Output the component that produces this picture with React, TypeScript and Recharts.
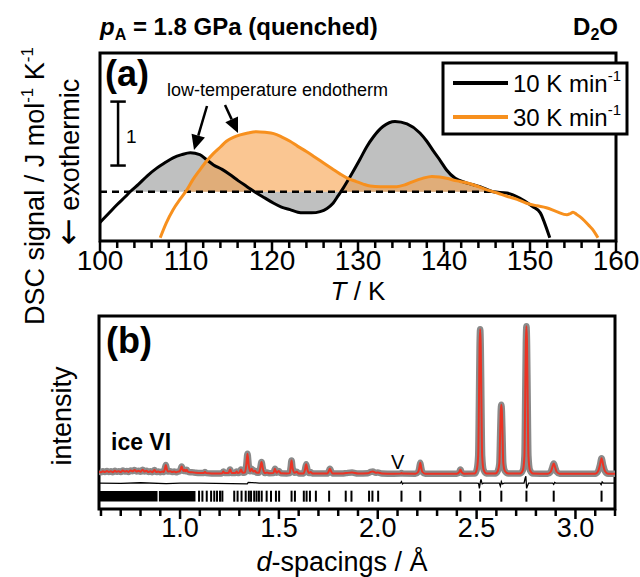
import React from "react"
import { Area, ComposedChart, Line, ReferenceArea, ReferenceLine, Scatter, XAxis, YAxis } from "recharts"

const FONT = "'Liberation Sans', Arial, Helvetica, sans-serif"

// panel (a): DSC scans
const tDomain = [100, 160]
const signalDomain = [-0.77, 2.17]
const tTicks = [100, 102, 104, 106, 108, 110, 112, 114, 116, 118, 120, 122, 124, 126, 128, 130, 132, 134, 136, 138, 140, 142, 144, 146, 148, 150, 152, 154, 156, 158, 160]
const tLabels = [100, 110, 120, 130, 140, 150, 160]

const blackT = [100, 101, 102, 103, 103.5, 104.5, 105.5, 106.6, 107.5, 108.5, 109.5, 110.5, 111.6, 112.4, 113.2, 114.2, 115.1, 116.1, 117.1, 118.2, 119.2, 120.2, 121.1, 122.1, 123.0, 123.6, 124.6, 125.6, 126.4, 127.1, 127.7, 128.3, 129.1, 130.2, 131.0, 131.8, 132.9, 134.3, 135.7, 137.2, 138.0, 138.8, 139.6, 140.3, 141.3, 142.6, 143.4, 144.2, 145.7, 147.3, 148.8, 150.3, 151.2, 151.7, 152.3]
const blackSignal = [-0.48, -0.34, -0.2, -0.07, 0, 0.12, 0.25, 0.37, 0.45, 0.53, 0.58, 0.61, 0.58, 0.5, 0.42, 0.35, 0.27, 0.17, 0.08, -0.02, -0.1, -0.18, -0.24, -0.28, -0.32, -0.33, -0.33, -0.31, -0.26, -0.18, -0.06, 0.06, 0.24, 0.5, 0.7, 0.86, 1.02, 1.1, 1.06, 0.92, 0.79, 0.63, 0.48, 0.34, 0.21, 0.14, 0.11, 0.08, 0.0, -0.02, -0.1, -0.23, -0.33, -0.49, -0.72]

const orangeT = [107.0, 107.7, 108.5, 109.3, 110.1, 110.8, 111.6, 112.4, 113.2, 114.0, 114.7, 115.5, 116.3, 117.2, 118.2, 119.2, 120.2, 121.1, 122.1, 123.0, 124.0, 125.0, 126.0, 127.0, 127.9, 128.8, 129.8, 130.6, 131.4, 132.6, 133.5, 134.5, 135.5, 136.4, 137.5, 138.6, 139.5, 140.3, 141.5, 142.6, 143.8, 145.0, 146.2, 147.3, 148.5, 149.6, 150.8, 151.9, 153.1, 154.3, 154.7, 155.0, 155.4, 155.8, 156.3, 156.8, 157.4, 157.9]
const orangeSignal = [-0.72, -0.49, -0.28, -0.12, 0.03, 0.19, 0.34, 0.48, 0.6, 0.7, 0.79, 0.85, 0.89, 0.92, 0.94, 0.93, 0.91, 0.86, 0.79, 0.71, 0.63, 0.54, 0.45, 0.36, 0.28, 0.21, 0.16, 0.12, 0.09, 0.08, 0.08, 0.08, 0.11, 0.16, 0.21, 0.24, 0.23, 0.21, 0.17, 0.14, 0.09, 0.03, -0.02, -0.07, -0.12, -0.18, -0.22, -0.25, -0.31, -0.36, -0.34, -0.32, -0.35, -0.39, -0.45, -0.52, -0.61, -0.72]

const blackFillRange = [103.5, 145.7]
const orangeFillRange = [110.1, 145.0]
const baselineEnd = 145.7
const scaleBar = { t: 102.1, from: 0.41, to: 1.41, cap: 0.9 }

const series = [
  { name: "10 K min", color: "#000000" },
  { name: "30 K min", color: "#f7901e" },
]

const blackRows = blackT.map((t, i) => ({ t, y: blackSignal[i] }))
const orangeRows = orangeT.map((t, i) => ({ t, y: orangeSignal[i] }))
const blackFill = blackRows.filter((r) => r.t >= blackFillRange[0] && r.t <= blackFillRange[1])
const orangeFill = orangeRows.filter((r) => r.t >= orangeFillRange[0] && r.t <= orangeFillRange[1])

// panel (b): neutron diffraction, ice VI
const dDomain = [0.59, 3.2]
const intensityDomain = [-23.2, 104.8]
const dTicks = [0.6, 0.7, 0.8, 0.9, 1.0, 1.1, 1.2, 1.3, 1.4, 1.5, 1.6, 1.7, 1.8, 1.9, 2.0, 2.1, 2.2, 2.3, 2.4, 2.5, 2.6, 2.7, 2.8, 2.9, 3.0, 3.1, 3.2]
const dLabels = [1.0, 1.5, 2.0, 2.5, 3.0]

const profile: [number, number][] = [
  [0.59, 1.6], [0.6, 1.2], [0.61, 1.9], [0.62, 1.3], [0.63, 2.0], [0.64, 1.4], [0.65, 1.8], [0.66, 1.2], [0.67, 2.1], [0.68, 1.5],
  [0.69, 1.9], [0.7, 1.3], [0.71, 2.3], [0.72, 1.6], [0.73, 2.0], [0.74, 1.4], [0.75, 2.4], [0.76, 1.8], [0.77, 2.6], [0.78, 1.7],
  [0.79, 2.2], [0.8, 1.5], [0.81, 2.9], [0.82, 1.6], [0.83, 2.1], [0.84, 1.3], [0.85, 1.8], [0.86, 1.2], [0.87, 2.6], [0.88, 1.3],
  [0.89, 1.7], [0.9, 1.2], [0.91, 1.6], [0.918, 1.4], [0.923, 3.5], [0.928, 6.0], [0.933, 3.2], [0.94, 1.6], [0.95, 1.9], [0.96, 1.3],
  [0.97, 1.7], [0.98, 1.2], [0.99, 1.6], [0.998, 1.8], [1.003, 3.2], [1.008, 5.0], [1.013, 3.0], [1.018, 2.0], [1.023, 2.8], [1.028, 1.9],
  [1.034, 2.8], [1.04, 1.5], [1.05, 1.1], [1.06, 1.2], [1.07, 1.0], [1.08, 0.8], [1.1, 0.6], [1.12, 0.7], [1.126, 1.4], [1.132, 0.6],
  [1.16, 0.4], [1.2, 0.4], [1.213, 0.5], [1.219, 1.6], [1.225, 0.6], [1.245, 0.6], [1.253, 3.0], [1.261, 0.7], [1.28, 0.6], [1.286, 1.6],
  [1.292, 0.7], [1.3, 0.9], [1.308, 3.0], [1.316, 0.9], [1.328, 1.0], [1.335, 6.0], [1.341, 13.5], [1.347, 6.0], [1.354, 1.8], [1.362, 3.5],
  [1.37, 1.6], [1.378, 2.2], [1.386, 1.0], [1.398, 0.8], [1.405, 3.5], [1.412, 8.0], [1.419, 3.5], [1.428, 0.6], [1.44, 1.0], [1.45, 0.5],
  [1.472, 0.6], [1.48, 3.5], [1.488, 0.8], [1.5, 2.0], [1.51, 0.5], [1.54, 0.4], [1.555, 0.6], [1.559, 4.0], [1.564, 9.0], [1.569, 4.0],
  [1.58, 0.8], [1.59, 1.5], [1.6, 0.4], [1.625, 0.4], [1.632, 3.0], [1.638, 6.5], [1.644, 3.0], [1.652, 0.6], [1.66, 1.3], [1.67, 0.4],
  [1.7, 0.3], [1.745, 0.3], [1.752, 1.8], [1.758, 3.5], [1.764, 1.8], [1.772, 0.3], [1.82, 0.3], [1.84, 0.6], [1.87, 1.0], [1.9, 0.3],
  [1.95, 0.5], [1.965, 1.4], [1.975, 1.6], [1.99, 0.8], [2.0, 1.0], [2.02, 0.4], [2.08, 0.2], [2.115, 0.3], [2.12, 0.7], [2.125, 0.3],
  [2.19, 0.2], [2.205, 1.5], [2.21, 4.0], [2.215, 7.5], [2.22, 4.0], [2.225, 1.5], [2.24, 0.2], [2.4, 0.2], [2.412, 1.2], [2.418, 3.0],
  [2.424, 1.2], [2.436, 0.2], [2.49, 0.3], [2.5, 2.5], [2.508, 12], [2.512, 50], [2.515, 84], [2.518, 96], [2.521, 84], [2.524, 50],
  [2.528, 12], [2.536, 2.5], [2.55, 0.4], [2.595, 0.3], [2.607, 2], [2.615, 7], [2.619, 26], [2.622, 41], [2.625, 46], [2.628, 41],
  [2.631, 26], [2.635, 7], [2.643, 2], [2.66, 0.3], [2.72, 0.4], [2.734, 2.5], [2.742, 12], [2.746, 52], [2.749, 86], [2.752, 98],
  [2.755, 86], [2.758, 52], [2.762, 12], [2.77, 2.5], [2.785, 0.4], [2.86, 0.2], [2.875, 1.5], [2.882, 4], [2.89, 7], [2.898, 4],
  [2.905, 1.5], [2.92, 0.2], [3.1, 0.2], [3.115, 2], [3.124, 6], [3.132, 10.5], [3.14, 6], [3.149, 2], [3.165, 0.2], [3.2, 0.2],
]

const difference: [number, number][] = [
  [0.59, -6], [0.7, -6.2], [0.8, -5.8], [0.93, -6.4], [1.0, -6.1], [1.1, -6], [1.34, -6.5], [1.345, -5.5], [1.4, -6], [1.6, -6],
  [2.0, -6], [2.115, -6], [2.12, -5], [2.125, -6.6], [2.13, -6], [2.5, -6], [2.51, -6.2], [2.514, -9.5], [2.518, -6], [2.522, -3.5],
  [2.528, -6.5], [2.535, -6], [2.615, -6], [2.62, -8], [2.625, -5], [2.63, -6.5], [2.64, -6], [2.74, -6], [2.745, -3], [2.749, -1.5],
  [2.753, -9.5], [2.757, -8], [2.763, -6], [2.885, -6], [2.89, -6.8], [2.895, -5.6], [2.9, -6], [3.125, -6], [3.13, -7], [3.135, -5.3],
  [3.14, -6], [3.2, -6],
]

const reflections = [1.096, 1.113, 1.135, 1.157, 1.173, 1.187, 1.202, 1.214, 1.274, 1.291, 1.311, 1.332, 1.348, 1.359, 1.375, 1.387, 1.399, 1.413, 1.438, 1.46, 1.485, 1.501, 1.564, 1.581, 1.626, 1.64, 1.657, 1.687, 1.754, 1.838, 1.867, 1.956, 1.973, 2.002, 2.12, 2.215, 2.418, 2.518, 2.625, 2.752, 2.89, 3.132]
const reflectionBands = [[0.59, 0.886], [0.893, 1.078]]
const tickRow = { y: -14.7, lo: -18.2, hi: -11.2 }

const profileRows = profile.map(([d, y]) => ({ d, y }))
const diffRows = difference.map(([d, y]) => ({ d, y }))
const reflectionRows = reflections.map((d) => ({ d, y: tickRow.y }))

function TTick(props: any) {
  const { x, y, payload } = props
  const major = tLabels.includes(payload.value)
  return (
    <g>
      <line x1={x} x2={x} y1={y} y2={y + (major ? 11 : 7)} stroke="#000" strokeWidth={2.5} />
      {major && (
        <text x={x} y={y + 29} textAnchor="middle" fontSize={28} fontFamily={FONT} fill="#000">
          {payload.value}
        </text>
      )}
    </g>
  )
}

function DTick(props: any) {
  const { x, y, payload } = props
  const major = dLabels.some((v) => Math.abs(v - payload.value) < 1e-6)
  return (
    <g>
      <line x1={x} x2={x} y1={y} y2={y + (major ? 10 : 7)} stroke="#000" strokeWidth={2.5} />
      {major && (
        <text x={x} y={y + 28} textAnchor="middle" fontSize={27} fontFamily={FONT} fill="#000">
          {payload.value.toFixed(1)}
        </text>
      )}
    </g>
  )
}

function TickMark(props: any) {
  const { cx, cy } = props
  return <line x1={cx} x2={cx} y1={cy - 5.5} y2={cy + 5.5} stroke="#000" strokeWidth={2} />
}

function DscChart() {
  return (
    <ComposedChart width={640} height={300} margin={{ top: 53, right: 24, bottom: 0, left: 100 }}>
      <XAxis type="number" dataKey="t" domain={tDomain} ticks={tTicks} interval={0} tickLine={false} tickSize={0} tickMargin={0} height={59} axisLine={false} tick={<TTick />} />
      <YAxis type="number" domain={signalDomain} tick={false} tickLine={false} width={0} axisLine={false} allowDataOverflow />
      <Area data={blackFill} dataKey="y" type="monotone" baseValue={0} fill="#bfc0c0" fillOpacity={1} stroke="none" isAnimationActive={false} />
      <Area data={orangeFill} dataKey="y" type="monotone" baseValue={0} fill="#f7a04a" fillOpacity={0.6} stroke="none" isAnimationActive={false} />
      <ReferenceLine segment={[{ x: 100, y: 0 }, { x: baselineEnd, y: 0 }]} stroke="#000" strokeWidth={2.5} strokeDasharray="7 5" />
      <ReferenceLine segment={[{ x: scaleBar.t, y: scaleBar.from }, { x: scaleBar.t, y: scaleBar.to }]} stroke="#000" strokeWidth={2.5} />
      <ReferenceLine segment={[{ x: scaleBar.t - scaleBar.cap, y: scaleBar.from }, { x: scaleBar.t + scaleBar.cap, y: scaleBar.from }]} stroke="#000" strokeWidth={2.5} />
      <ReferenceLine segment={[{ x: scaleBar.t - scaleBar.cap, y: scaleBar.to }, { x: scaleBar.t + scaleBar.cap, y: scaleBar.to }]} stroke="#000" strokeWidth={2.5} />
      <Line data={blackRows} dataKey="y" type="monotone" stroke={series[0].color} strokeWidth={3} dot={false} isAnimationActive={false} />
      <Line data={orangeRows} dataKey="y" type="monotone" stroke={series[1].color} strokeWidth={3} dot={false} isAnimationActive={false} />
      <ReferenceArea x1={tDomain[0]} x2={tDomain[1]} y1={signalDomain[0]} y2={signalDomain[1]} fill="none" stroke="#000" strokeWidth={3} ifOverflow="visible" />
    </ComposedChart>
  )
}

function DiffractionChart() {
  return (
    <ComposedChart width={640} height={277} margin={{ top: 16, right: 25, bottom: 0, left: 99 }}>
      <XAxis type="number" dataKey="d" domain={dDomain} ticks={dTicks} interval={0} tickLine={false} tickSize={0} tickMargin={0} height={68} axisLine={false} tick={<DTick />} allowDataOverflow />
      <YAxis type="number" dataKey="y" domain={intensityDomain} tick={false} tickLine={false} width={0} axisLine={false} allowDataOverflow />
      {reflectionBands.map(([a, b]) => (
        <ReferenceArea key={a} x1={a} x2={b} y1={tickRow.lo} y2={tickRow.hi} fill="#000" fillOpacity={1} stroke="none" />
      ))}
      <Scatter data={reflectionRows} dataKey="y" shape={<TickMark />} isAnimationActive={false} />
      <Line data={diffRows} dataKey="y" type="linear" stroke="#000" strokeWidth={1.3} dot={false} isAnimationActive={false} />
      <Line data={profileRows} dataKey="y" type="monotone" stroke="#8a8a8a" strokeWidth={6.5} dot={false} isAnimationActive={false} />
      <Line data={profileRows} dataKey="y" type="monotone" stroke="#ec3324" strokeWidth={2} dot={false} isAnimationActive={false} />
      <ReferenceArea x1={dDomain[0]} x2={dDomain[1]} y1={intensityDomain[0]} y2={intensityDomain[1]} fill="none" stroke="#000" strokeWidth={3} ifOverflow="visible" />
    </ComposedChart>
  )
}

function Arrow({ x1, y1, x2, y2 }: { x1: number; y1: number; x2: number; y2: number }) {
  const dx = x2 - x1
  const dy = y2 - y1
  const len = Math.hypot(dx, dy)
  const ux = dx / len
  const uy = dy / len
  const bx = x2 - ux * 15
  const by = y2 - uy * 15
  const px = -uy * 7
  const py = ux * 7
  return (
    <g>
      <line x1={x1} y1={y1} x2={bx} y2={by} stroke="#000" strokeWidth={2.5} />
      <polygon points={`${x2},${y2} ${bx + px},${by + py} ${bx - px},${by - py}`} fill="#000" />
    </g>
  )
}

function Overlay() {
  return (
    <svg width={640} height={577} style={{ position: "absolute", left: 0, top: 0, pointerEvents: "none" }} fontFamily={FONT}>
      <text x={100} y={35} fontSize={24} fontWeight="bold">
        <tspan fontStyle="italic">p</tspan>
        <tspan fontSize={16} dy={5}>A</tspan>
        <tspan dy={-5}> = 1.8 GPa (quenched)</tspan>
      </text>
      <text x={618} y={35} fontSize={24} fontWeight="bold" textAnchor="end">
        D<tspan fontSize={16} dy={5}>2</tspan>
        <tspan dy={-5}>O</tspan>
      </text>
      <text x={105} y={86} fontSize={36} fontWeight="bold">(a)</text>
      <text x={106} y={353} fontSize={36} fontWeight="bold">(b)</text>
      <text x={167} y={96} fontSize={18}>low-temperature endotherm</text>
      <Arrow x1={207} y1={106} x2={194} y2={150} />
      <Arrow x1={225} y1={105} x2={238} y2={133} />
      <text x={126} y={143} fontSize={19}>1</text>
      <text transform="translate(44,186) rotate(-90)" textAnchor="middle" fontSize={27}>
        DSC signal / J mol<tspan fontSize={17} dy={-11}>-1</tspan>
        <tspan dy={11}> K</tspan>
        <tspan fontSize={17} dy={-11}>-1</tspan>
      </text>
      <text transform="translate(79,162) rotate(-90)" textAnchor="middle" fontSize={27}>
        <tspan fontFamily="'DejaVu Sans', sans-serif" fontSize={32}>←</tspan> exothermic
      </text>
      <text transform="translate(71,416) rotate(-90)" textAnchor="middle" fontSize={27}>intensity</text>
      <text x={358} y={300} fontSize={26} textAnchor="middle">
        <tspan fontStyle="italic">T</tspan> / K
      </text>
      <text x={342} y={571} fontSize={27} textAnchor="middle">
        <tspan fontStyle="italic">d</tspan>-spacings / Å
      </text>
      <text x={111} y={450} fontSize={23} fontWeight="bold">ice VI</text>
      <text x={391} y={469} fontSize={20}>V</text>
      <g>
        <rect x={443} y={63} width={184} height={71} fill="#fff" stroke="#000" strokeWidth={3} />
        {series.map((s, i) => (
          <g key={s.name}>
            <line x1={453} x2={508} y1={83 + i * 34} y2={83 + i * 34} stroke={s.color} strokeWidth={4} />
            <text x={513} y={92 + i * 34} fontSize={24}>
              {s.name}
              <tspan fontSize={15} dy={-11}>-1</tspan>
            </text>
          </g>
        ))}
      </g>
    </svg>
  )
}

export default function App() {
  return (
    <div style={{ position: "absolute", left: 0, top: 0, width: 640, height: 577, background: "#fff", fontFamily: FONT }}>
      <div style={{ position: "absolute", left: 0, top: 0 }}>
        <DscChart />
      </div>
      <div style={{ position: "absolute", left: 0, top: 300 }}>
        <DiffractionChart />
      </div>
      <Overlay />
    </div>
  )
}
